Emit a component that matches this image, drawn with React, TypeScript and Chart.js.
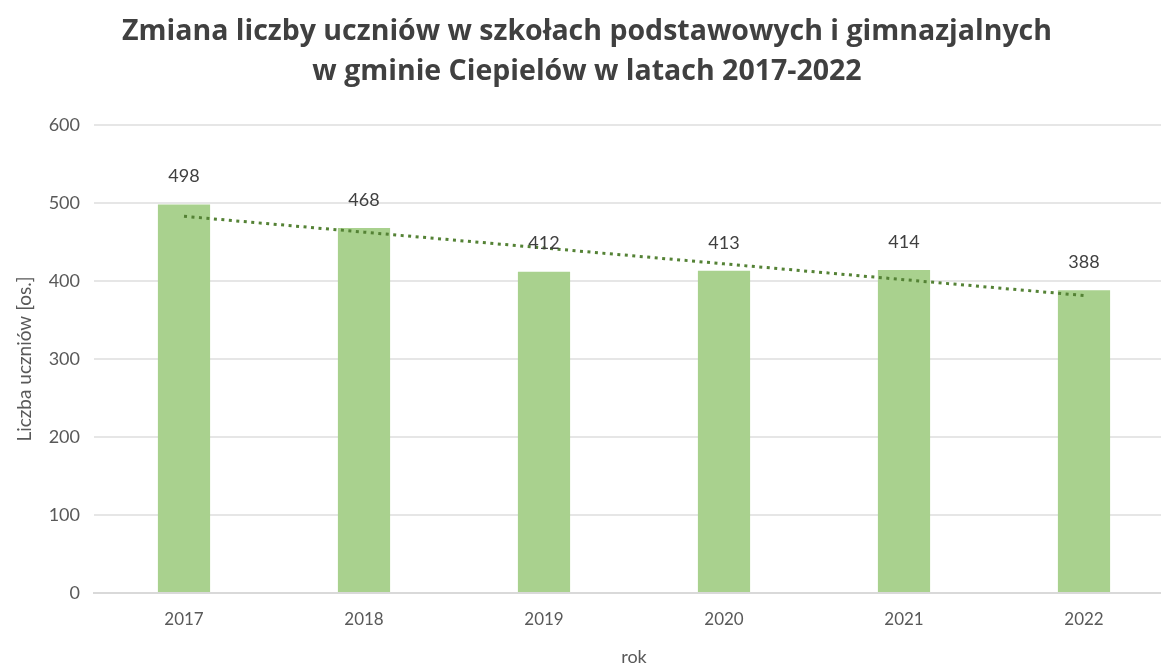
import React, { useEffect, useRef } from "react";
import { Chart, registerables } from "chart.js";

Chart.register(...registerables);

const categories = ["2017", "2018", "2019", "2020", "2021", "2022"];
const students = [498, 468, 412, 413, 414, 388];
const titleLines = [
  "Zmiana liczby uczniów w szkołach podstawowych i gimnazjalnych",
  "w gminie Ciepielów w latach 2017-2022",
];
const yTitle = "Liczba uczniów [os.]";
const xTitle = "rok";

// Linear (least squares) trendline of the bar values, as in the original spreadsheet chart
function linearTrend(values: number[]): number[] {
  const n = values.length;
  const xs = values.map((_, i) => i + 1);
  const mx = xs.reduce((a, b) => a + b, 0) / n;
  const my = values.reduce((a, b) => a + b, 0) / n;
  let num = 0;
  let den = 0;
  for (let i = 0; i < n; i++) {
    num += (xs[i] - mx) * (values[i] - my);
    den += (xs[i] - mx) ** 2;
  }
  const slope = num / den;
  return xs.map((x) => my + slope * (x - mx));
}

const FONT = "Lato, 'Open Sans', sans-serif";
const TITLE_FONT = "'Open Sans', Lato, sans-serif";

const valueLabels = {
  id: "valueLabels",
  afterDatasetsDraw(chart: any) {
    const meta = chart.getDatasetMeta(0);
    const ctx = chart.ctx;
    ctx.save();
    ctx.font = `18px ${FONT}`;
    ctx.fillStyle = "#404040";
    ctx.textAlign = "center";
    ctx.textBaseline = "middle";
    meta.data.forEach((bar: any, i: number) => {
      ctx.fillText(String(students[i]), bar.x, bar.y - 28);
    });
    ctx.restore();
  },
};

export default function App() {
  const ref = useRef<HTMLCanvasElement | null>(null);
  useEffect(() => {
    if (!ref.current) return;
    const chart = new Chart(ref.current, {
      type: "bar",
      data: {
        labels: categories,
        datasets: [
          {
            type: "bar",
            data: students,
            backgroundColor: "#A9D18E",
            barPercentage: 0.29,
            categoryPercentage: 1,
            order: 2,
          },
          {
            type: "line",
            data: linearTrend(students),
            borderColor: "#548235",
            borderWidth: 3,
            borderDash: [3, 4.5],
            pointRadius: 0,
            fill: false,
            order: 1,
          } as any,
        ],
      },
      options: {
        responsive: false,
        animation: false,
        devicePixelRatio: 1,
        layout: { padding: 0 },
        plugins: {
          legend: { display: false },
          tooltip: { enabled: false },
          title: {
            display: true,
            text: titleLines,
            color: "#404040",
            font: { family: TITLE_FONT, size: 28.5, weight: "bold", lineHeight: "40px" as any },
            padding: { top: 12, bottom: 33 },
          },
        },
        scales: {
          x: {
            grid: { display: false, drawTicks: false },
            border: { display: true, color: "#D9D9D9", width: 2 },
            ticks: { color: "#595959", font: { family: FONT, size: 17 }, padding: 16 },
            title: {
              display: true,
              text: xTitle,
              color: "#595959",
              font: { family: FONT, size: 18 },
              padding: { top: 0, bottom: 1 },
            },
            afterFit(scale: any) {
              scale.height = 76;
            },
          },
          y: {
            min: 0,
            max: 600,
            ticks: {
              stepSize: 100,
              color: "#595959",
              font: { family: FONT, size: 18 },
              padding: 14,
            },
            grid: { color: "#E6E6E6", lineWidth: 2, drawTicks: false },
            border: { display: false },
            title: {
              display: true,
              text: yTitle,
              color: "#595959",
              font: { family: FONT, size: 19 },
              padding: { top: 13, bottom: 14 },
            },
            afterFit(scale: any) {
              scale.width = 94;
            },
          },
        },
      },
      plugins: [valueLabels],
    });
    return () => chart.destroy();
  }, []);

  return (
    <div
      style={{
        position: "absolute",
        left: 0,
        top: 0,
        width: 1161,
        height: 669,
        overflow: "hidden",
        background: "#fff",
      }}
    >
      <canvas ref={ref} width={1174} height={669} style={{ display: "block" }} />
    </div>
  );
}
